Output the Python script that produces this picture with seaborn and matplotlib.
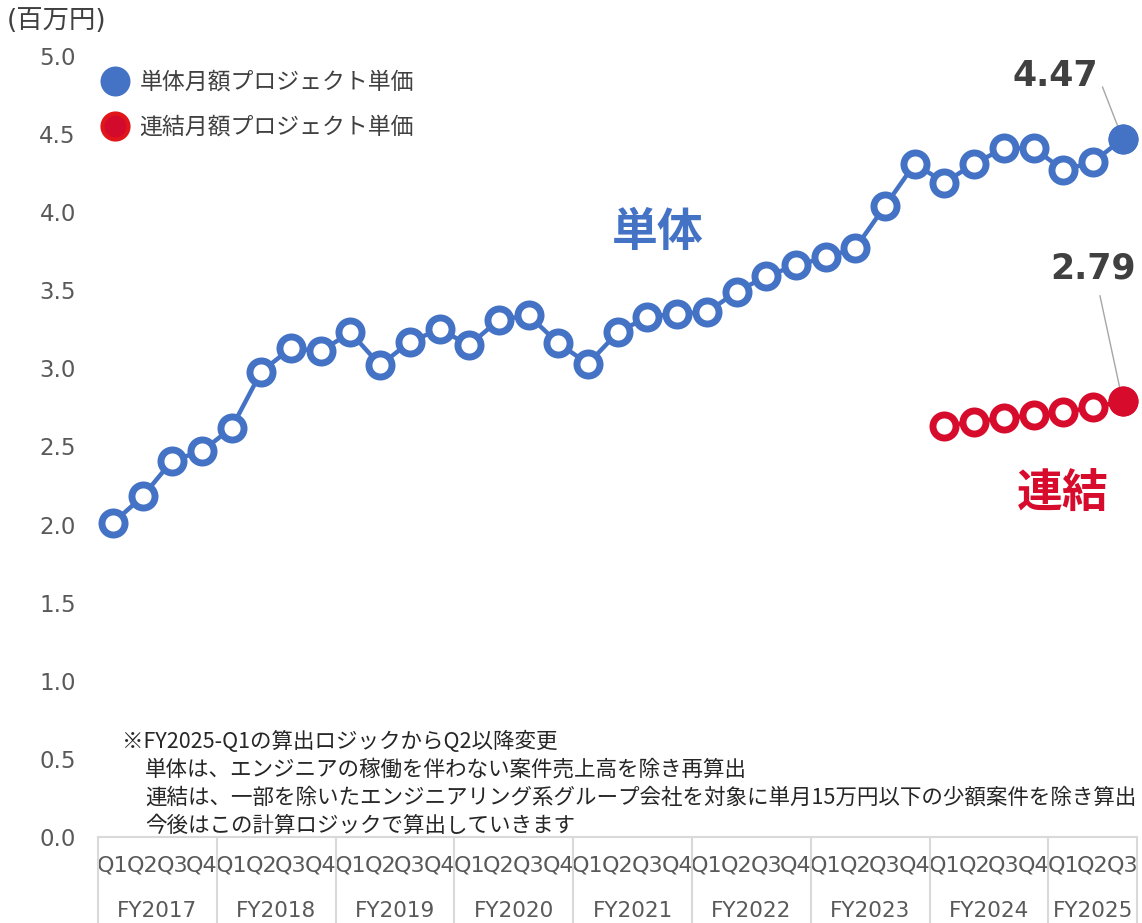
import matplotlib
matplotlib.use("Agg")
import matplotlib.pyplot as plt
from matplotlib.lines import Line2D
import pandas as pd
import seaborn as sns

# ---- data -------------------------------------------------------------
fiscal_years = ["FY2017", "FY2018", "FY2019", "FY2020", "FY2021",
                "FY2022", "FY2023", "FY2024", "FY2025"]
quarters_per_year = [4, 4, 4, 4, 4, 4, 4, 4, 3]
quarter_names = ["Q1", "Q2", "Q3", "Q4"]

# 単体月額プロジェクト単価 (百万円), FY2017-Q1 .. FY2025-Q3
standalone = [2.01, 2.18, 2.41, 2.47, 2.62,
              2.98, 3.13, 3.11, 3.23, 3.02,
              3.17, 3.25, 3.15, 3.31, 3.34,
              3.16, 3.03, 3.23, 3.33, 3.35,
              3.36, 3.49, 3.59, 3.66, 3.71,
              3.77, 4.04, 4.31, 4.19, 4.31,
              4.41, 4.41, 4.27, 4.32, 4.47]

# 連結月額プロジェクト単価 (百万円), FY2024-Q1 .. FY2025-Q3
consolidated = [2.63, 2.66, 2.68, 2.70, 2.72, 2.75, 2.79]

series_labels = ["単体月額プロジェクト単価", "連結月額プロジェクト単価"]
y_ticks = [0.0, 0.5, 1.0, 1.5, 2.0, 2.5, 3.0, 3.5, 4.0, 4.5, 5.0]
unit_label = "(百万円)"
note_lines = [
    "※FY2025-Q1の算出ロジックからQ2以降変更",
    "単体は、エンジニアの稼働を伴わない案件売上高を除き再算出",
    "連結は、一部を除いたエンジニアリング系グループ会社を対象に単月15万円以下の少額案件を除き算出",
    "今後はこの計算ロジックで算出していきます",
]

# ---- frames -----------------------------------------------------------
quarter_labels = [q for n in quarters_per_year for q in quarter_names[:n]]
n_points = len(quarter_labels)
df_single = pd.DataFrame({"pos": range(n_points), "value": standalone})
start = n_points - len(consolidated)
df_cons = pd.DataFrame({"pos": range(start, n_points), "value": consolidated})

# ---- style ------------------------------------------------------------
sns.set_theme(style="white")
plt.rcParams["font.family"] = ["DejaVu Sans", "Noto Sans CJK JP"]
jp = ["Noto Sans CJK JP", "DejaVu Sans"]

BLUE = "#4472c4"
RED = "#d70c2c"
TICK_GREY = "#595959"
TEXT_DARK = "#404040"
GRID_GREY = "#d9d9d9"

W, H = 1142, 923
fig = plt.figure(figsize=(W / 100, H / 100), dpi=100)
ax_left, ax_right, ax_top, ax_bottom = 98, 1137.5, 56, 837
ax = fig.add_axes([ax_left / W, 1 - ax_bottom / H,
                   (ax_right - ax_left) / W, (ax_bottom - ax_top) / H])

ms, mew, lw = 16.6, 5.0, 3.2
sns.lineplot(data=df_single, x="pos", y="value", ax=ax, color=BLUE,
             linewidth=lw, marker="o", markersize=ms, markeredgewidth=mew,
             markerfacecolor="white", markeredgecolor=BLUE, zorder=3)
sns.lineplot(data=df_cons, x="pos", y="value", ax=ax, color=RED,
             linewidth=lw, marker="o", markersize=ms, markeredgewidth=mew,
             markerfacecolor="white", markeredgecolor=RED, zorder=3)

# latest quarter drawn as a filled dot
sns.scatterplot(data=df_single.iloc[-1:], x="pos", y="value", ax=ax,
                color=BLUE, s=21.6 ** 2, linewidth=0, zorder=4)
sns.scatterplot(data=df_cons.iloc[-1:], x="pos", y="value", ax=ax,
                color=RED, s=21.6 ** 2, linewidth=0, zorder=4)

# ---- axes -------------------------------------------------------------
ax.set_xlim(-0.5, n_points - 0.5)
ax.set_ylim(0, 5)
ax.set_yticks(y_ticks)
ax.set_yticklabels([f"{t:.1f}" for t in y_ticks])
ax.set_xticks(range(n_points))
ax.set_xticklabels(quarter_labels)
ax.set_xlabel("")
ax.set_ylabel("")
ax.tick_params(axis="y", length=0, pad=16, labelsize=16.5, labelcolor=TICK_GREY)
ax.tick_params(axis="x", length=0, pad=13, labelsize=16, labelcolor=TICK_GREY)
for lab in ax.get_xticklabels() + ax.get_yticklabels():
    lab.set_family("DejaVu Sans")
for side in ["left", "right", "top"]:
    ax.spines[side].set_visible(False)
ax.spines["bottom"].set_color(GRID_GREY)
ax.spines["bottom"].set_linewidth(1.5)

# fiscal year group table under the axis
table_depth = (H - ax_bottom) / (ax_bottom - ax_top)
bounds = [-0.5]
for n in quarters_per_year:
    bounds.append(bounds[-1] + n)
for b in bounds:
    ax.axvline(b, ymin=-table_depth, ymax=0, color=GRID_GREY, lw=1.5,
               clip_on=False)
fy_y = -(911 - ax_bottom) / (ax_bottom - ax_top)
xt = ax.get_xaxis_transform()
for fy, lo, hi in zip(fiscal_years, bounds[:-1], bounds[1:]):
    ax.text((lo + hi) / 2, fy_y, fy, transform=xt, ha="center", va="center",
            fontsize=15.5, color=TICK_GREY, family="DejaVu Sans")

# unit label
fig.text(7 / W, 1 - 21 / H, unit_label, ha="left", va="center",
         fontsize=19, color=TEXT_DARK)

# ---- legend -----------------------------------------------------------
handles = [
    Line2D([], [], ls="", marker="o", markersize=21.6, markerfacecolor=BLUE,
           markeredgecolor=BLUE, markeredgewidth=0),
    Line2D([], [], ls="", marker="o", markersize=18.7, markerfacecolor="#d40a2c",
           markeredgecolor="#e0161b", markeredgewidth=3),
]
leg = ax.legend(handles, series_labels, loc="upper left",
                bbox_to_anchor=(104 / W, 1 - 71 / H),
                bbox_transform=fig.transFigure, frameon=False,
                borderpad=0, borderaxespad=0, handlelength=1.0,
                handletextpad=0.55, labelspacing=0.95,
                prop={"family": jp, "size": 16.5})
for t in leg.get_texts():
    t.set_color(TEXT_DARK)

# ---- value call-outs --------------------------------------------------
ax.annotate(f"{standalone[-1]:.2f}", xy=(df_single.pos.iloc[-1], standalone[-1]),
            xytext=(-18, 45), textcoords="offset points", ha="right", va="center",
            fontsize=25, fontweight="bold", color=TEXT_DARK,
            arrowprops=dict(arrowstyle="-", color="#a6a6a6", lw=1.0,
                            relpos=(1.0, 0.55), shrinkA=3, shrinkB=0))
ax.annotate(f"{consolidated[-1]:.2f}", xy=(df_cons.pos.iloc[-1], consolidated[-1]),
            xytext=(-21, 95.5), textcoords="offset points", ha="center", va="center",
            fontsize=25, fontweight="bold", color=TEXT_DARK,
            arrowprops=dict(arrowstyle="-", color="#a6a6a6", lw=1.0,
                            relpos=(0.55, 0.0), shrinkA=5, shrinkB=0))

# series names on the plot
ax.text(18.35, 3.87, "単体", ha="center", va="center", fontsize=33,
        fontweight="bold", color=BLUE, family=jp)
ax.text(31.99, 2.19, "連結", ha="center", va="center", fontsize=33,
        fontweight="bold", color=RED, family=jp)

# calculation note
ah = ax_bottom - ax_top
aw = ax_right - ax_left
for i, (line, y_px) in enumerate(zip(note_lines, [742, 770, 798, 826])):
    x_px = 122 if i == 0 else 145
    ax.text((x_px - ax_left) / aw, (ax_bottom - y_px) / ah, line,
            transform=ax.transAxes, ha="left", va="center",
            fontsize=15.5, color="#262626", family=jp)

fig.savefig("out.png", dpi=100)
